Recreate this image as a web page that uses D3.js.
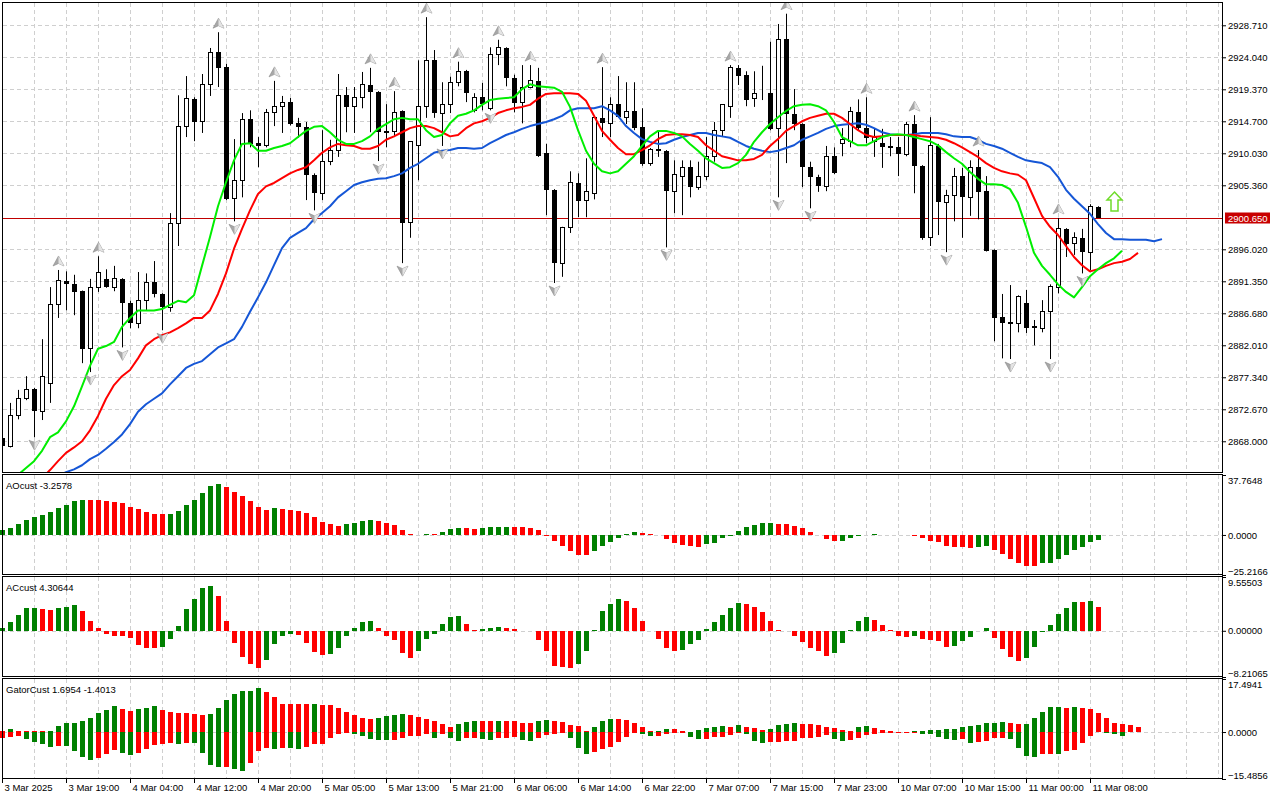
<!DOCTYPE html>
<html>
<head>
<meta charset="utf-8">
<script src="https://cdn.jsdelivr.net/npm/d3@7"></script>
<style>
  body { margin: 0; background: #fff; }
  svg text { font-family: 'Liberation Sans', Arial, sans-serif; }
</style>
</head>
<body>
<div id="chart"></div>
<script>
// ---- data (XAUUSD H1, 3 Mar - 11 Mar 2025) ----
const timeIdx = [0, 8, 16, 24, 32, 40, 48, 56, 64, 72, 80, 88, 96, 104, 112, 120, 128, 136]
const timeLabels = ['3 Mar 2025', '3 Mar 19:00', '4 Mar 04:00', '4 Mar 12:00', '4 Mar 20:00', '5 Mar 05:00',
  '5 Mar 13:00', '5 Mar 21:00', '6 Mar 06:00', '6 Mar 14:00', '6 Mar 22:00', '7 Mar 07:00', '7 Mar 15:00',
  '7 Mar 23:00', '10 Mar 07:00', '10 Mar 15:00', '11 Mar 00:00', '11 Mar 08:00']

const priceTicks = [2928.71, 2924.04, 2919.37, 2914.70, 2910.03, 2905.36, 2896.02, 2891.35,
  2886.68, 2882.01, 2877.34, 2872.67, 2868.00]
const lastPrice = 2900.65

const opens = [
  2868.45, 2867.3, 2871.8, 2874.3, 2875.6, 2872.3, 2876.5, 2887.9, 2891.4, 2890.9,
  2889.9, 2881.5, 2890.5, 2891.7, 2890.5, 2891.7, 2888.2, 2885.2, 2888.6, 2891.2,
  2889.5, 2887.5, 2899.8, 2913.9, 2918.0, 2914.6, 2920.1, 2924.8, 2922.6, 2903.4,
  2906.0, 2915.0, 2911.5, 2911.1, 2916.0, 2916.9, 2917.5, 2914.4, 2913.9, 2906.9,
  2904.2, 2908.8, 2910.4, 2918.5, 2916.8, 2918.1, 2920.0, 2919.0, 2913.1, 2913.2,
  2916.2, 2899.9, 2911.1, 2916.9, 2923.6, 2915.9, 2917.2, 2920.4, 2922.1, 2916.3,
  2918.2, 2916.6, 2924.5, 2925.4, 2921.0, 2917.4, 2919.7, 2920.6, 2910.1, 2904.7,
  2894.0, 2899.2, 2905.7, 2903.1, 2904.2, 2915.2, 2914.4, 2917.2, 2915.3, 2916.2,
  2913.9, 2908.6, 2910.6, 2910.4, 2904.5, 2906.7, 2908.0, 2905.1, 2906.6, 2909.5,
  2913.4, 2916.9, 2922.5, 2921.4, 2918.0, 2918.7, 2918.8, 2913.6, 2926.7, 2915.8,
  2914.3, 2908.0, 2906.6, 2905.2, 2909.6, 2911.5, 2911.7, 2916.1, 2913.7, 2911.7,
  2911.5, 2910.9, 2910.9, 2909.9, 2914.3, 2908.2, 2897.8, 2911.1, 2902.9, 2903.8,
  2906.7, 2903.6, 2908.0, 2904.5, 2895.9, 2886.1, 2885.2, 2885.2, 2888.2, 2884.6,
  2884.5, 2887.0, 2890.5, 2899.0, 2896.8, 2897.6, 2895.6, 2902.2
]
const highs = [
  2868.6, 2873.6, 2875.5, 2877.5, 2875.8, 2882.9, 2890.5, 2893.0, 2892.8, 2892.3,
  2890.0, 2891.7, 2895.0, 2893.1, 2893.6, 2891.8, 2888.5, 2892.7, 2892.5, 2894.3,
  2889.6, 2901.3, 2918.5, 2921.3, 2918.2, 2921.6, 2925.4, 2927.7, 2923.1, 2912.1,
  2915.9, 2916.3, 2912.4, 2916.5, 2920.6, 2918.4, 2918.1, 2915.2, 2914.6, 2907.1,
  2913.4, 2912.0, 2921.6, 2919.7, 2919.7, 2921.9, 2922.5, 2919.1, 2917.2, 2919.1,
  2916.3, 2911.8, 2923.6, 2929.9, 2925.1, 2920.4, 2921.2, 2923.4, 2922.2, 2918.8,
  2920.3, 2925.5, 2926.6, 2925.5, 2921.5, 2922.9, 2922.9, 2922.5, 2911.4, 2904.8,
  2899.3, 2907.4, 2907.1, 2909.3, 2915.3, 2922.6, 2918.2, 2921.3, 2920.4, 2920.4,
  2916.6, 2910.8, 2913.4, 2910.5, 2909.0, 2909.0, 2909.0, 2908.8, 2912.4, 2914.6,
  2917.2, 2922.9, 2922.9, 2922.0, 2922.0, 2922.8, 2926.3, 2928.9, 2930.4, 2919.4,
  2914.4, 2908.8, 2906.9, 2911.1, 2910.9, 2913.7, 2916.8, 2917.9, 2918.2, 2913.7,
  2913.6, 2912.4, 2912.4, 2914.6, 2915.6, 2908.3, 2915.3, 2911.4, 2904.7, 2907.9,
  2907.9, 2909.0, 2910.5, 2906.7, 2896.0, 2889.5, 2890.8, 2889.3, 2890.1, 2885.7,
  2888.6, 2890.9, 2900.6, 2899.1, 2898.5, 2899.0, 2902.6, 2902.3
]
const lows = [
  2867.1, 2867.1, 2871.2, 2874.0, 2868.6, 2871.1, 2873.6, 2886.0, 2887.1, 2886.4,
  2879.4, 2878.1, 2889.8, 2890.4, 2889.9, 2881.7, 2884.5, 2884.5, 2887.1, 2889.0,
  2884.2, 2886.9, 2896.5, 2912.4, 2911.8, 2913.0, 2918.4, 2919.7, 2903.2, 2900.1,
  2903.6, 2910.9, 2908.0, 2910.9, 2914.0, 2913.0, 2914.1, 2912.3, 2903.2, 2901.7,
  2903.2, 2908.3, 2909.5, 2913.1, 2913.0, 2916.6, 2913.1, 2908.9, 2910.9, 2912.4,
  2894.0, 2897.7, 2906.1, 2915.2, 2915.2, 2911.1, 2915.9, 2919.8, 2917.5, 2916.0,
  2916.3, 2916.3, 2922.9, 2919.8, 2916.0, 2914.4, 2919.5, 2909.5, 2901.0, 2891.1,
  2892.0, 2898.4, 2900.7, 2900.7, 2903.3, 2912.4, 2912.4, 2915.2, 2914.3, 2913.4,
  2908.2, 2908.2, 2909.5, 2896.3, 2901.3, 2901.0, 2903.6, 2904.7, 2906.1, 2908.8,
  2912.4, 2915.2, 2920.0, 2916.9, 2916.8, 2917.8, 2913.4, 2903.6, 2908.6, 2913.4,
  2905.1, 2902.0, 2904.4, 2904.5, 2907.0, 2909.6, 2910.9, 2913.4, 2911.5, 2909.5,
  2907.9, 2909.6, 2906.7, 2909.6, 2904.2, 2897.4, 2896.5, 2898.1, 2895.6, 2900.1,
  2897.7, 2900.9, 2900.4, 2895.7, 2882.6, 2880.1, 2880.0, 2883.9, 2883.8, 2882.0,
  2883.9, 2880.0, 2889.6, 2894.9, 2895.2, 2892.5, 2893.0, 2900.6
]
const closes = [
  2867.3, 2871.8, 2874.3, 2875.6, 2872.4, 2877.4, 2887.9, 2891.4, 2890.9, 2889.8,
  2881.5, 2890.4, 2892.7, 2890.5, 2891.7, 2888.2, 2885.2, 2888.6, 2891.2, 2889.5,
  2887.6, 2899.8, 2913.9, 2918.0, 2914.6, 2920.1, 2924.7, 2922.5, 2903.4, 2906.0,
  2915.0, 2911.4, 2911.1, 2916.0, 2916.9, 2917.4, 2914.3, 2913.9, 2906.9, 2904.2,
  2908.8, 2910.4, 2918.5, 2916.8, 2918.1, 2920.0, 2919.0, 2913.1, 2913.2, 2916.0,
  2899.8, 2911.7, 2916.9, 2923.6, 2915.9, 2917.2, 2920.4, 2922.0, 2918.8, 2918.1,
  2917.2, 2924.5, 2925.4, 2921.0, 2917.4, 2919.6, 2920.6, 2909.6, 2904.7, 2894.0,
  2899.2, 2905.7, 2903.1, 2904.5, 2915.2, 2914.4, 2917.1, 2915.3, 2916.2, 2913.7,
  2908.5, 2910.6, 2910.4, 2904.5, 2906.9, 2908.0, 2905.1, 2906.6, 2909.6, 2913.4,
  2917.1, 2922.5, 2921.3, 2917.8, 2918.7, 2918.7, 2913.6, 2926.7, 2915.8, 2914.3,
  2908.0, 2906.6, 2905.2, 2909.6, 2907.1, 2912.1, 2916.2, 2913.7, 2912.3, 2912.3,
  2910.9, 2911.0, 2909.9, 2914.3, 2908.2, 2897.7, 2911.1, 2902.9, 2903.8, 2906.6,
  2903.6, 2907.9, 2904.4, 2895.8, 2886.0, 2885.2, 2885.3, 2889.2, 2884.5, 2884.7,
  2887.0, 2890.6, 2899.0, 2896.8, 2897.7, 2895.6, 2902.2, 2900.65
]

// Alligator lines (jaw/teeth/lips), first bar index of each series
const jawStart = 7
const jaw = [
  2862.9, 2863.5, 2863.9, 2864.5, 2865.4, 2866.0, 2866.9, 2867.9, 2869.0, 2870.5,
  2872.3, 2873.4, 2874.2, 2875.0, 2876.3, 2877.5, 2878.7, 2879.3, 2879.7, 2880.7,
  2881.7, 2882.3, 2882.9, 2884.7, 2886.9, 2889.0, 2891.2, 2893.7, 2896.2, 2897.7,
  2898.4, 2899.1, 2900.4, 2901.3, 2902.3, 2903.6, 2904.5, 2905.4, 2905.8, 2906.1,
  2906.3, 2906.4, 2906.7, 2907.1, 2907.9, 2908.5, 2909.3, 2910.1, 2910.4, 2910.5,
  2910.8, 2910.8, 2910.7, 2910.8, 2911.5, 2912.1, 2912.7, 2913.1, 2913.6, 2914.0,
  2914.3, 2914.6, 2915.0, 2915.5, 2916.3, 2916.6, 2916.6, 2916.6, 2916.9, 2916.3,
  2915.5, 2914.0, 2913.0, 2912.1, 2911.7, 2911.4, 2911.5, 2912.0, 2912.4, 2912.7,
  2913.0, 2913.0, 2912.7, 2912.5, 2912.3, 2911.7, 2911.1, 2910.7, 2910.4, 2910.2,
  2910.4, 2910.8, 2911.2, 2912.0, 2912.5, 2913.0, 2913.6, 2914.0, 2914.2, 2914.3,
  2914.4, 2914.2, 2913.7, 2913.1, 2912.8, 2912.7, 2912.7, 2912.8, 2913.0, 2913.0,
  2913.0, 2912.8, 2912.5, 2912.4, 2912.4, 2912.0, 2911.4, 2911.1, 2910.7, 2910.1,
  2909.5, 2909.0, 2908.8, 2908.6, 2908.0, 2906.6, 2904.7, 2903.4, 2902.3, 2901.2,
  2899.7, 2898.4, 2897.5, 2897.5, 2897.4, 2897.4, 2897.4, 2897.2, 2897.5
]
const teethStart = 5
const teeth = [
  2862.6, 2863.8, 2865.1, 2866.3, 2867.1, 2868.0, 2869.6, 2871.7, 2874.2, 2876.2,
  2877.5, 2878.4, 2880.1, 2882.0, 2882.9, 2883.5, 2883.9, 2884.5, 2885.2, 2886.0,
  2886.0, 2887.1, 2889.5, 2892.5, 2896.1, 2899.0, 2901.7, 2904.1, 2905.2, 2905.7,
  2906.4, 2907.1, 2907.6, 2908.0, 2909.0, 2910.1, 2910.9, 2911.4, 2911.2, 2911.1,
  2910.7, 2910.7, 2911.1, 2912.0, 2912.5, 2913.1, 2913.7, 2914.0, 2914.0, 2913.7,
  2913.1, 2912.5, 2912.7, 2913.7, 2914.4, 2914.7, 2915.2, 2915.9, 2916.3, 2916.6,
  2916.8, 2917.1, 2918.0, 2918.7, 2918.8, 2918.8, 2918.8, 2918.7, 2917.7, 2915.5,
  2913.3, 2912.0, 2910.8, 2909.9, 2909.9, 2910.5, 2911.2, 2912.1, 2912.7, 2912.8,
  2912.8, 2912.7, 2912.4, 2911.2, 2910.4, 2909.6, 2909.3, 2909.0, 2909.0, 2909.2,
  2909.8, 2911.1, 2912.1, 2913.3, 2914.0, 2914.7, 2915.2, 2915.5, 2915.8, 2915.8,
  2915.2, 2914.3, 2913.4, 2912.7, 2912.4, 2912.5, 2912.7, 2912.7, 2912.7, 2912.7,
  2912.5, 2912.4, 2912.3, 2912.0, 2911.5, 2910.9, 2910.2, 2909.5, 2908.6, 2907.9,
  2907.4, 2907.1, 2906.9, 2906.1, 2903.5, 2900.9, 2899.3, 2898.1, 2896.5, 2894.9,
  2893.7, 2892.8, 2893.1, 2893.6, 2894.0, 2894.2, 2894.6, 2895.5
]
const lipsStart = 1
const lips = [
  2861.9, 2863.1, 2864.1, 2865.1, 2866.6, 2868.6, 2869.3, 2870.9, 2873.1, 2876.0,
  2879.0, 2881.5, 2881.9, 2882.5, 2884.7, 2886.0, 2887.1, 2887.1, 2887.1, 2887.3,
  2887.9, 2888.5, 2888.3, 2889.3, 2893.6, 2897.8, 2902.3, 2905.8, 2909.0, 2911.4,
  2911.5, 2910.4, 2910.4, 2910.8, 2911.1, 2911.5, 2912.4, 2913.3, 2913.9, 2914.0,
  2913.1, 2912.0, 2911.4, 2911.4, 2911.8, 2912.5, 2913.6, 2914.3, 2915.0, 2915.2,
  2915.0, 2915.0, 2913.4, 2912.4, 2912.7, 2914.4, 2915.5, 2915.8, 2916.3, 2917.1,
  2917.8, 2918.0, 2918.1, 2918.2, 2919.4, 2920.1, 2919.8, 2919.7, 2919.6, 2919.0,
  2916.8, 2913.4, 2910.4, 2908.5, 2907.4, 2907.1, 2907.4, 2908.5, 2909.6, 2911.1,
  2912.5, 2913.3, 2913.3, 2913.0, 2912.5, 2911.4, 2910.4, 2909.3, 2908.6, 2907.9,
  2908.0, 2908.6, 2909.8, 2911.7, 2913.1, 2914.3, 2915.3, 2916.2, 2916.9, 2917.1,
  2917.2, 2916.9, 2916.3, 2914.6, 2912.4, 2911.8, 2911.2, 2911.2, 2911.8, 2912.4,
  2912.7, 2912.8, 2912.7, 2912.4, 2912.1, 2911.8, 2911.2, 2910.2, 2909.3, 2908.5,
  2907.3, 2906.3, 2905.5, 2905.5, 2905.4, 2904.8, 2902.8, 2899.3, 2895.5, 2893.6,
  2892.3, 2890.9, 2889.8, 2889.0, 2890.5, 2892.1, 2893.1, 2894.0, 2894.7, 2895.8
]

// fractal bars (index) and the signal arrow
const upFractals = [7, 12, 27, 34, 46, 49, 53, 57, 62, 66, 75, 91, 98, 108, 114, 122, 132]
const downFractals = [4, 11, 15, 20, 29, 39, 47, 50, 55, 61, 69, 83, 97, 101, 118, 126, 131, 135]
const signalIdx = 139
const signalPrice = 2901.6

// Awesome oscillator
const aoValues = [
  3.1, 4.4, 6.9, 9.4, 11.5, 12.6, 14.5, 17.2, 18.9, 21.6,
  22.3, 22.2, 22.1, 21.6, 20.8, 19.9, 17.6, 16.2, 14.7, 13.4,
  13.3, 13.4, 15.3, 19.1, 22.0, 26.4, 30.9, 32.1, 30.4, 27.3,
  24.6, 21.6, 17.6, 16.0, 17.2, 16.6, 15.7, 15.3, 13.6, 11.1,
  8.4, 6.9, 5.9, 6.9, 7.6, 8.8, 9.4, 8.8, 7.6, 6.3,
  3.1, 0.6, 0.2, 0.6, 0.3, 1.7, 3.8, 4.6, 4.4, 3.8,
  4.4, 4.8, 5.0, 5.1, 4.8, 4.7, 4.6, 3.1, -0.4, -3.6,
  -6.7, -9.9, -12.6, -12.7, -9.9, -6.7, -4.2, -1.9, 0.4, 1.7,
  1.1, 0.6, -0.2, -2.7, -4.8, -6.1, -6.7, -7.3, -5.5, -4.8,
  -2.1, -0.4, 2.5, 5.0, 6.3, 7.6, 7.7, 6.9, 6.8, 5.9,
  4.6, 1.9, -0.2, -2.3, -3.6, -3.5, -2.1, -0.8, -0.3, 0.3,
  0.2, -0.05, -0.1, -0.3, -0.8, -2.0, -3.6, -4.2, -6.9, -7.6,
  -7.8, -7.9, -7.7, -7.1, -9.2, -12.0, -15.1, -17.4, -19.3, -19.4,
  -17.8, -17.4, -15.1, -12.6, -9.4, -7.3, -4.4, -3.2578
]
const aoRange = [-25.2166, 37.7648]

// Accelerator oscillator
const acValues = [
  0.5, 1.6, 2.8, 4.0, 4.05, 3.8, 3.7, 4.0, 4.2, 4.6,
  3.6, 1.8, 0.5, -0.5, -0.9, -0.95, -1.2, -2.5, -3.0, -3.05,
  -2.9, -1.5, 0.8, 3.8, 5.6, 7.6, 7.9, 6.2, 1.8, -2.1,
  -4.6, -5.9, -6.6, -5.2, -2.3, -0.9, -0.5, -0.8, -2.1, -3.7,
  -4.3, -4.2, -3.0, -0.9, 0.5, 1.6, 1.8, 0.5, -0.9, -1.6,
  -4.0, -4.8, -3.6, -1.4, -0.5, 1.2, 2.4, 2.7, 1.2, 0.2,
  0.4, 0.5, 0.65, 0.5, 0.4, -0.05, -0.1, -1.6, -3.6, -6.2,
  -6.4, -6.6, -5.9, -3.6, 0.2, 3.5, 4.7, 5.6, 5.3, 4.1,
  1.7, 0.0, -1.5, -3.1, -3.6, -3.4, -2.3, -1.6, 0.3, 1.5,
  2.8, 4.0, 4.9, 4.7, 4.2, 3.4, 1.7, 0.2, -0.05, -0.9,
  -2.0, -3.1, -3.6, -4.4, -4.0, -2.2, 0.1, 1.7, 2.4, 2.0,
  1.1, 0.2, -1.0, -1.1, -1.0, -1.5, -1.6, -1.9, -2.8, -2.7,
  -1.8, -1.1, -0.1, 0.5, -1.2, -3.2, -4.6, -5.3, -4.8, -2.8,
  -0.2, 1.0, 3.0, 4.0, 5.2, 5.1, 5.3, 4.30644
]
const acRange = [-8.21065, 9.55503]

// Gator oscillator (upper and lower histograms)
const gatorUpper = [
  0.5, 0.9, 0.5, 0.5, 0.4, 0.3, 0.5, 2.0, 2.9, 3.1,
  3.5, 4.5, 6.2, 7.4, 8.5, 7.7, 7.1, 7.5, 7.8, 8.5,
  7.4, 6.7, 6.3, 6.2, 6.1, 5.6, 5.8, 7.8, 10.7, 12.4,
  13.4, 13.6, 14.4, 13.3, 11.5, 9.3, 9.2, 9.15, 9.1, 9.2,
  9.0, 8.8, 7.9, 6.7, 5.7, 4.7, 4.3, 4.6, 5.3, 5.7,
  5.9, 5.6, 5.1, 4.4, 3.7, 2.6, 1.6, 2.5, 3.4, 3.8,
  3.7, 3.6, 3.8, 3.7, 3.5, 3.1, 3.0, 3.7, 4.0, 3.6,
  3.2, 2.4, 1.9, 0.3, 1.5, 3.7, 4.4, 4.3, 4.0, 3.1,
  1.5, 0.4, 0.5, 0.9, 0.85, 0.3, 0.1, 0.6, 1.4, 1.7,
  2.1, 1.7, 2.3, 1.7, 1.2, 0.6, 0.9, 2.3, 2.8, 2.9,
  2.8, 2.5, 2.4, 1.8, 1.4, 0.6, 0.5, 1.5, 1.9, 1.4,
  0.6, 0.2, 0.15, 0.1, 0.2, 0.4, 0.6, 0.8, 0.9, 0.95,
  1.6, 1.9, 2.4, 3.0, 3.1, 3.2, 2.9, 2.6, 2.7, 4.5,
  6.6, 8.1, 8.15, 8.0, 8.1, 7.8, 7.7, 6.2, 4.7, 3.0,
  2.6, 2.4, 1.6954
]
const gatorLower = [
  -1.9, -1.6, -1.3, -2.4, -3.3, -4.0, -4.9, -4.6, -4.7, -6.3,
  -8.2, -9.2, -8.7, -7.1, -5.9, -7.0, -7.6, -6.8, -5.7, -4.3,
  -3.8, -3.5, -3.8, -3.6, -3.7, -6.9, -11.0, -11.6, -11.5, -12.3,
  -12.7, -10.2, -6.4, -5.4, -5.6, -5.2, -5.4, -5.5, -4.8, -4.0,
  -3.8, -2.1, -0.6, -0.3, -0.5, -1.3, -2.3, -2.6, -2.7, -2.6,
  -2.0, -1.4, -1.2, -0.7, -1.8, -0.6, -1.9, -2.8, -2.0, -1.8,
  -2.4, -2.5, -2.0, -1.8, -1.7, -2.6, -2.8, -1.9, -1.0, -0.7,
  -0.3, -2.0, -5.4, -7.1, -6.6, -5.5, -4.8, -3.4, -1.5, -0.4,
  -0.7, -1.3, -1.2, -0.6, -0.3, -0.3, -1.5, -2.2, -2.2, -1.6,
  -1.6, -1.1, -0.3, -0.5, -2.8, -3.5, -3.4, -3.2, -3.0, -2.9,
  -2.1, -2.0, -1.6, -1.0, -2.2, -2.9, -2.5, -2.1, -1.1, -0.5,
  -0.4, -0.4, -0.3, -0.3, -0.3, -0.6, -0.8, -1.5, -2.4, -2.6,
  -2.4, -3.5, -3.2, -3.0, -2.1, -1.9, -2.2, -5.2, -7.9, -8.2,
  -7.4, -7.1, -7.2, -6.4, -5.9, -3.5, -1.2, -0.1, -0.4, -0.8,
  -1.4013
]
const gatorRange = [-15.4856, 17.4941]

// ---- layout ----
const width = 1280
const height = 800
const left = 2
const right = 1222
const mainP = { top: 2, bottom: 473 }
const aoP = { top: 474, bottom: 575 }
const acP = { top: 576, bottom: 677 }
const gatorP = { top: 678, bottom: 779 }

const green = '#008000'
const red = '#ff0000'
const gridColor = '#cfcfcf'
const fontFamily = "'Liberation Sans', Arial, sans-serif"
const fontSize = 9.5

const svg = d3.select('#chart')
  .append('svg')
  .attr('width', width)
  .attr('height', height)
  .style('display', 'block')
  .style('background', '#fff')

// scales
const x = d3.scaleLinear().domain([0, 152.5]).range([left, right])
const y = d3.scaleLinear().domain([2863.37, 2932.11]).range([mainP.bottom, mainP.top])
const yAO = d3.scaleLinear().domain(aoRange).range([aoP.bottom, aoP.top + 1])
const yAC = d3.scaleLinear().domain(acRange).range([acP.bottom, acP.top + 1])
const yGator = d3.scaleLinear().domain(gatorRange).range([gatorP.bottom, gatorP.top + 1])

svg.append('clipPath').attr('id', 'mainClip')
  .append('rect')
  .attr('x', left + 1).attr('y', mainP.top + 1)
  .attr('width', right - left - 1).attr('height', mainP.bottom - mainP.top - 2)

// vertical grid, every 4 bars, in each panel
const gridIdx = d3.range(4, 153, 4)
;[mainP, aoP, acP, gatorP].forEach(p => {
  svg.append('g')
    .selectAll('line')
    .data(gridIdx)
    .join('line')
    .attr('x1', i => Math.round(x(i)) + 0.5)
    .attr('x2', i => Math.round(x(i)) + 0.5)
    .attr('y1', p.top + 1)
    .attr('y2', p.bottom - 1)
    .attr('stroke', gridColor)
    .attr('stroke-dasharray', '4,3')
})

// horizontal grid in main panel
svg.append('g')
  .selectAll('line')
  .data(priceTicks)
  .join('line')
  .attr('x1', left + 1)
  .attr('x2', right)
  .attr('y1', d => Math.round(y(d)) + 0.5)
  .attr('y2', d => Math.round(y(d)) + 0.5)
  .attr('stroke', gridColor)
  .attr('stroke-dasharray', '4,3')

// zero lines in the sub panels
;[yAO, yAC, yGator].forEach(s => {
  svg.append('line')
    .attr('x1', left + 1).attr('x2', right)
    .attr('y1', Math.round(s(0)) + 0.5).attr('y2', Math.round(s(0)) + 0.5)
    .attr('stroke', gridColor)
    .attr('stroke-dasharray', '4,3')
})

// current price line
svg.append('line')
  .attr('x1', left + 1).attr('x2', right)
  .attr('y1', Math.round(y(lastPrice)) + 0.5).attr('y2', Math.round(y(lastPrice)) + 0.5)
  .attr('stroke', '#c00000')

// candles
const main = svg.append('g').attr('clip-path', 'url(#mainClip)')
const bars = d3.range(opens.length)

main.append('g')
  .selectAll('line')
  .data(bars)
  .join('line')
  .attr('x1', i => x(i) + 0.5)
  .attr('x2', i => x(i) + 0.5)
  .attr('y1', i => y(highs[i]))
  .attr('y2', i => y(lows[i]))
  .attr('stroke', '#000')

main.append('g')
  .selectAll('rect')
  .data(bars)
  .join('rect')
  .attr('shape-rendering', 'crispEdges')
  .attr('x', i => closes[i] >= opens[i] ? x(i) - 1.5 : x(i) - 2)
  .attr('width', i => closes[i] >= opens[i] ? 4 : 5)
  .attr('y', i => y(Math.max(opens[i], closes[i])))
  .attr('height', i => Math.max(y(Math.min(opens[i], closes[i])) - y(Math.max(opens[i], closes[i])), closes[i] >= opens[i] ? 0 : 1))
  .attr('fill', i => closes[i] >= opens[i] ? '#fff' : '#000')
  .attr('stroke', i => closes[i] >= opens[i] ? '#000' : 'none')

// alligator
const alligator = [
  { values: jaw, start: jawStart, color: '#1556d6' },
  { values: teeth, start: teethStart, color: '#ff0000' },
  { values: lips, start: lipsStart, color: '#00ee00' }
]
alligator.forEach(s => {
  main.append('path')
    .datum(s.values)
    .attr('d', d3.line().x((d, k) => x(s.start + k)).y(d => y(d)))
    .attr('fill', 'none')
    .attr('stroke', s.color)
    .attr('stroke-width', 2)
    .attr('stroke-linejoin', 'round')
})

// fractal arrows
const upShape = 'M0,-5L5.5,5L0,2.5L-5.5,5Z'
const upHalf = 'M0,-5L5.5,5L0,2.5Z'
function drawFractals(idx, pos, flip) {
  const g = main.append('g')
    .selectAll('g')
    .data(idx)
    .join('g')
    .attr('transform', i => `translate(${x(i) + 0.5},${pos(i)}) scale(1,${flip})`)
  g.append('path').attr('d', upShape).attr('fill', '#a8a8a8').attr('stroke', '#8a8a8a').attr('stroke-width', 0.6)
  g.append('path').attr('d', upHalf).attr('fill', '#e4e4e4')
}
drawFractals(upFractals, i => y(highs[i]) - 9, 1)
drawFractals(downFractals, i => y(lows[i]) + 8, -1)

// signal arrow
main.append('path')
  .attr('transform', `translate(${x(signalIdx) + 0.5},${y(signalPrice)})`)
  .attr('d', 'M0,-19L7.5,-11L3.5,-11L3.5,0L-3.5,0L-3.5,-11L-7.5,-11Z')
  .attr('fill', '#fff')
  .attr('stroke', '#6fdc2a')
  .attr('stroke-width', 1.5)

// histograms
function histogram(values, start, scale, firstUp, byMagnitude) {
  svg.append('g')
    .selectAll('rect')
    .data(values)
    .join('rect')
    .attr('shape-rendering', 'crispEdges')
    .attr('x', (d, k) => x(start + k) - 2)
    .attr('width', 5)
    .attr('y', d => Math.min(scale(d), scale(0)))
    .attr('height', d => Math.abs(scale(d) - scale(0)))
    .attr('fill', (d, k) => {
      if (k === 0) return firstUp ? green : red
      const a = byMagnitude ? Math.abs(d) : d
      const b = byMagnitude ? Math.abs(values[k - 1]) : values[k - 1]
      return a > b ? green : red
    })
}
histogram(aoValues, 0, yAO, true, false)
histogram(acValues, 0, yAC, true, false)
histogram(gatorUpper, 0, yGator, false, true)
histogram(gatorLower, 0, yGator, false, true)

// panel frames
;[mainP, aoP, acP, gatorP].forEach(p => {
  svg.append('rect')
    .attr('x', left + 0.5).attr('y', p.top + 0.5)
    .attr('width', right - left).attr('height', p.bottom - p.top - 1)
    .attr('fill', 'none')
    .attr('stroke', '#000')
})

// price axis
const priceAxis = svg.append('g')
  .attr('transform', `translate(${right},0)`)
  .call(d3.axisRight(y).tickValues(priceTicks).tickFormat(d3.format('.3f')).tickSize(4).tickPadding(2))
priceAxis.select('.domain').remove()

// current price label
const lp = svg.append('g').attr('transform', `translate(${right + 3},${Math.round(y(lastPrice))})`)
lp.append('rect').attr('x', 0).attr('y', -5.5).attr('width', 45).attr('height', 11).attr('fill', '#c80000')
lp.append('text').attr('x', 3).attr('y', 3.8).attr('fill', '#fff')
  .attr('font-size', fontSize).attr('font-family', fontFamily)
  .text(d3.format('.3f')(lastPrice))

// sub panel axes
function subAxis(scale, range, fmt) {
  const vals = [range[1], 0, range[0]]
  const g = svg.append('g')
    .attr('transform', `translate(${right},0)`)
    .call(d3.axisRight(scale).tickValues(vals).tickFormat(d3.format(fmt)).tickSize(4).tickPadding(2))
  g.select('.domain').remove()
  g.selectAll('text').attr('dy', (d, k) => k === 0 ? '0.88em' : k === 2 ? '-0.1em' : '0.32em')
}
subAxis(yAO, aoRange, '.4f')
subAxis(yAC, acRange, '.5f')
subAxis(yGator, gatorRange, '.4f')

// time axis
const timeAxis = svg.append('g')
  .attr('transform', `translate(0,${gatorP.bottom})`)
  .call(d3.axisBottom(x).tickValues(timeIdx).tickFormat((d, k) => timeLabels[k]).tickSize(4).tickPadding(1))
timeAxis.select('.domain').remove()
timeAxis.selectAll('text').attr('text-anchor', 'start').attr('x', 2)

svg.selectAll('.tick line').attr('stroke', '#000')
svg.selectAll('.tick text').attr('fill', '#000')
svg.selectAll('g').filter(function () { return this.getAttribute('font-size') === '10' })
  .attr('font-size', fontSize).attr('font-family', fontFamily)

// indicator captions
const captions = [
  { text: 'AOcust ' + aoValues[aoValues.length - 1], p: aoP },
  { text: 'ACcust ' + acValues[acValues.length - 1], p: acP },
  { text: 'GatorCust ' + gatorUpper[gatorUpper.length - 1] + ' ' + gatorLower[gatorLower.length - 1], p: gatorP }
]
svg.append('g')
  .selectAll('text')
  .data(captions)
  .join('text')
  .attr('x', 6)
  .attr('y', d => d.p.top + 14.5)
  .attr('font-size', fontSize)
  .attr('font-family', fontFamily)
  .attr('fill', '#000')
  .text(d => d.text)
</script>
</body>
</html>
